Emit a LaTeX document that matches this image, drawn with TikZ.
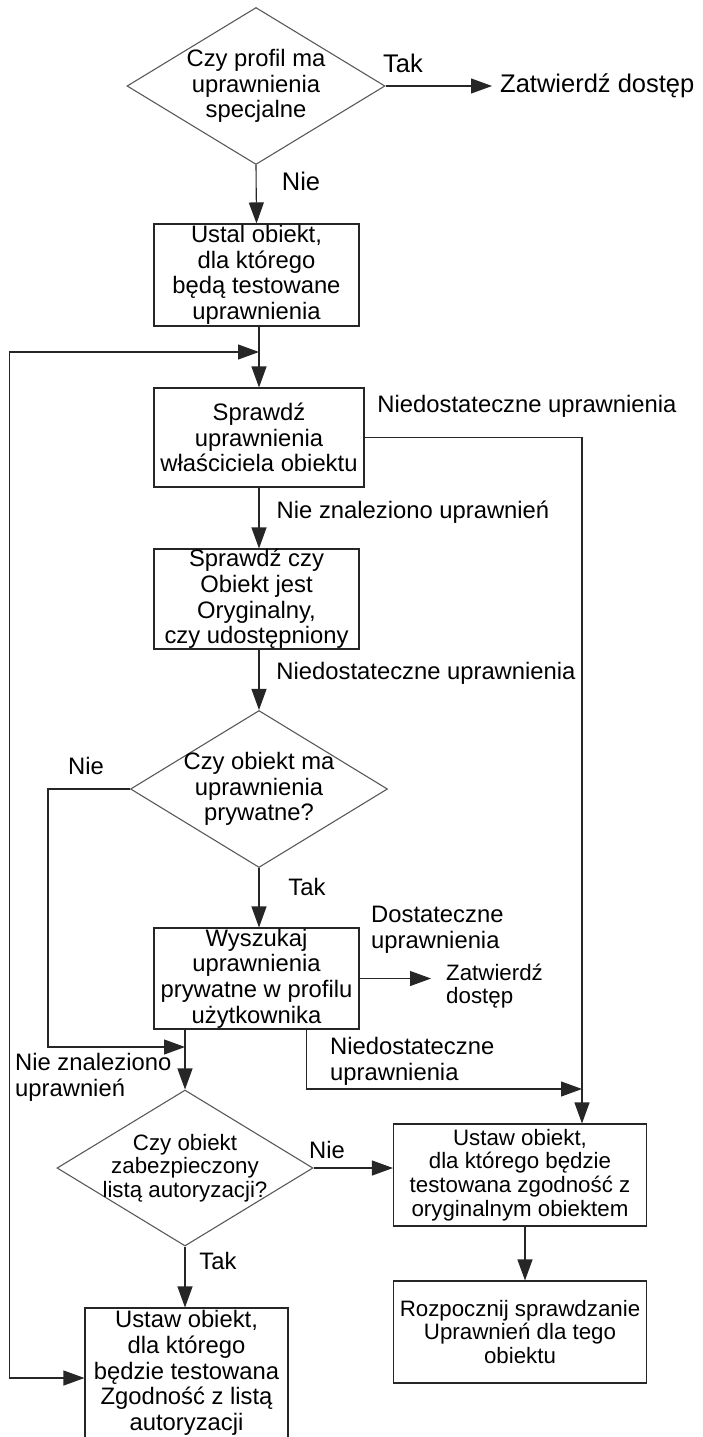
\documentclass[tikz,border=0pt]{standalone}
\usepackage{fontspec}
\setmainfont{Liberation Sans}
\usetikzlibrary{shapes.geometric,arrows.meta}

\tikzset{
  every node/.style={font=\fontsize{23.8}{25.6}\selectfont},
  smalltxt/.style={font=\fontsize{22.3}{23.6}\selectfont},
  bigtxt/.style={font=\fontsize{25.5}{27}\selectfont},
  box/.style={draw=black!85, line width=1.1pt, rectangle, inner sep=0pt, align=center},
  decision/.style={draw=black!65, line width=1.1pt, diamond, inner sep=0pt},
  lbl/.style={inner sep=0pt, align=left},
  flow/.style={draw=black!85, line width=1.1pt, -{Triangle[length=21pt,width=15pt]}},
  twoway/.style={flow, {Triangle[length=21pt,width=15pt]}-{Triangle[length=21pt,width=15pt]}}
}

\begin{document}
\begin{tikzpicture}[x=1pt,y=-1pt]
	\useasboundingbox (0,0) rectangle (702,1437);
	\coordinate (main) at (259,0);
	\coordinate (rline) at (582,0);
	% top decision
	\node[decision, minimum width=258pt, minimum height=157pt,
	  label={[align=center]center:{Czy profil ma\\uprawnienia\\specjalne}}] (d1) at (256,86) {};
	\node[lbl, bigtxt, anchor=west, inner xsep=8pt] (ok1) at (492,86) {Zatwierdź dostęp};
	\node[lbl, bigtxt] (tak1) at (403,63) {Tak};
	\node[lbl, bigtxt] (nie1) at (301,181) {Nie};
	\node[box, minimum width=205pt, minimum height=102pt] (b1) at (256.5,275) {Ustal obiekt,\\dla którego\\będą testowane\\uprawnienia};
	\coordinate (back) at (259,352);
	\node[box, minimum width=210pt, minimum height=99pt] (b2) at (259,437.5) {Sprawdź\\uprawnienia\\właściciela obiektu};
	\node[lbl] (nd1) at (527,406) {Niedostateczne uprawnienia};
	\node[lbl] (nz1) at (413,512) {Nie znaleziono uprawnień};
	\node[box, minimum width=205pt, minimum height=100pt] (b3) at (256.5,599) {Sprawdź czy\\Obiekt jest\\Oryginalny,\\czy udostępniony};
	\node[lbl] (nd2) at (426,673) {Niedostateczne uprawnienia};
	% private rights
	\node[decision, minimum width=257pt, minimum height=157pt,
	  label={[align=center]center:{Czy obiekt ma\\uprawnienia\\prywatne?}}] (d2) at (259,789) {};
	\node[lbl] (nie2) at (86,766) {Nie};
	\node[lbl] (tak2) at (307,887) {Tak};
	\node[box, minimum width=205pt, minimum height=101pt] (b4) at (256.5,978.5) {Wyszukaj\\uprawnienia\\prywatne w profilu\\użytkownika};
	\node[lbl, anchor=west] (dost) at (371,930) {Dostateczne\\uprawnienia};
	\node[lbl, smalltxt, anchor=west, inner xsep=15pt] (ok2) at (431,986) {Zatwierdź\\dostęp};
	\coordinate (j2) at (185,1047);
	\coordinate (j3) at (582,1089);
	\node[lbl, anchor=west] (nz2) at (15,1077.5) {Nie znaleziono\\uprawnień};
	\node[lbl, anchor=west] (nd3) at (330,1061.5) {Niedostateczne\\uprawnienia};
	% authorisation list
	\node[decision, minimum width=256pt, minimum height=156pt,
	  label={[smalltxt, align=center]center:{Czy obiekt\\zabezpieczony\\listą autoryzacji?}}] (d3) at (185,1168) {};
	\node[lbl] (nie3) at (327,1150) {Nie};
	\node[lbl] (tak3) at (218,1261) {Tak};
	\node[box, smalltxt, minimum width=253pt, minimum height=102pt] (b5) at (520,1175) {Ustaw obiekt,\\dla którego będzie\\testowana zgodność z\\oryginalnym obiektem};
	\node[box, smalltxt, minimum width=253pt, minimum height=102pt] (b6) at (520,1332) {Rozpocznij sprawdzanie\\Uprawnień dla tego\\obiektu};
	\node[box, minimum width=203pt, minimum height=130pt] (b7) at (186.5,1373) {Ustaw obiekt,\\dla którego\\będzie testowana\\Zgodność z listą\\autoryzacji};
	% connectors
	\draw[flow] (d1.east) -- (ok1.west);
	\draw[flow] (d1.south) -- (b1.north);
	\draw[flow] (b1.south -| main) -- (b2.north -| main);
	\draw[flow] (b2.east) -| (b5.north -| rline);
	\draw[flow] (b2.south) -- (b3.north -| main);
	\draw[flow] (b3.south -| main) -- (d2.north);
	\draw[flow] (d2.south) -- (b4.north -| main);
	\draw[flow] (b4.east) -- (b4.east -| ok2.west);
	\draw[flow] (d2.west) -- ++(-82,0) |- (j2);
	\draw[flow] (b4.south -| d3) -- (d3.north);
	\draw[flow] ([xshift=50pt]b4.south) |- (j3);
	\draw[flow] (d3.east) -- (d3.east -| b5.west);
	\draw[flow] ([xshift=5pt]b5.south) -- ([xshift=5pt]b6.north);
	\draw[flow] (d3.south) -- (b7.north -| d3);
	\draw[twoway] ([yshift=-5pt]b7.west) -- ++(-75,0) |- (back);
\end{tikzpicture}
\end{document}
